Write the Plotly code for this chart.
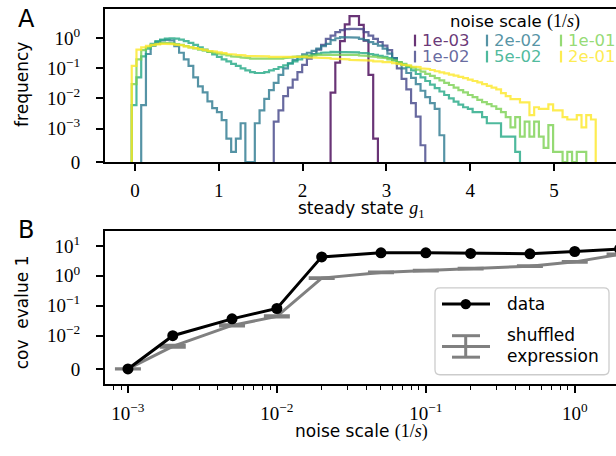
import numpy as np
import plotly.graph_objects as go

W, H = 616, 456

# ---------------- Panel A: steady-state g1 density histograms ----------------
# all histograms share one bin grid
bin_lo = -0.039
bin_w = 0.0565

noise_labels = ["1e-03", "1e-02", "2e-02", "5e-02", "1e-01", "2e-01"]
first_bin = [42, 30, 2, 0, 0, 0]

dens_1e03 = [0.0156, 0.154, 0.80, 2.9, 5.4, 5.4, 2.76, 0.83, 0.061, 0.0007]

dens_1e02 = [0.0017, 0.004, 0.012, 0.023, 0.042, 0.075, 0.13, 0.21, 0.3, 0.42,
             0.6, 0.96, 1.23, 1.6, 1.85, 2.0, 2.05, 2.05, 2.0, 1.6,
             1.23, 0.96, 0.75, 0.57, 0.4, 0.22, 0.1, 0.045, 0.02, 0.007,
             0.0025, 0.0005]

dens_2e02 = [0.006, 0.3, 0.57, 0.75, 0.85, 0.88, 0.85, 0.55, 0.33, 0.2,
             0.12, 0.05, 0.025, 0.016, 0.008, 0.0048, 0.0035, 0.0019, 0.0007, 0.0003,
             0.0007, 0.0015, 0.0, 0.0, 0.0015, 0.004, 0.0097, 0.019, 0.033, 0.061,
             0.1, 0.146, 0.19, 0.24, 0.29, 0.33, 0.38, 0.45, 0.55, 0.65,
             0.87, 1.0, 1.09, 1.09, 1.09, 1.05, 0.95, 0.87, 0.74, 0.65,
             0.57, 0.45, 0.31, 0.22, 0.15, 0.1, 0.07, 0.048, 0.03, 0.018,
             0.011, 0.007, 0.0045, 0.0008]

dens_5e02 = [0.006, 0.05, 0.25, 0.45, 0.65, 0.8, 0.9, 0.97, 1.0, 0.97,
             0.9, 0.8, 0.7, 0.6, 0.5, 0.42, 0.35, 0.29, 0.24, 0.2,
             0.17, 0.14, 0.12, 0.1, 0.085, 0.075, 0.07, 0.07, 0.075, 0.085,
             0.095, 0.11, 0.125, 0.145, 0.17, 0.2, 0.23, 0.26, 0.29, 0.31,
             0.33, 0.34, 0.35, 0.35, 0.35, 0.35, 0.34, 0.34, 0.33, 0.32,
             0.3, 0.28, 0.26, 0.24, 0.22, 0.19, 0.16, 0.13, 0.11, 0.085,
             0.065, 0.05, 0.038, 0.029, 0.022, 0.017, 0.013, 0.01, 0.0078, 0.0062,
             0.0051, 0.0045, 0.0035, 0.0035, 0.0024, 0.0015, 0.0015, 0.0015, 0.00076, 0.00076,
             0.00076, 0.0003]

dens_1e01 = [0.03, 0.2, 0.4, 0.5, 0.58, 0.65, 0.7, 0.7, 0.68, 0.64,
             0.6, 0.55, 0.5, 0.46, 0.42, 0.39, 0.36, 0.33, 0.31, 0.29,
             0.27, 0.25, 0.24, 0.23, 0.22, 0.21, 0.2, 0.2, 0.2, 0.2,
             0.21, 0.21, 0.22, 0.23, 0.24, 0.25, 0.26, 0.27, 0.27, 0.28,
             0.28, 0.29, 0.29, 0.29, 0.29, 0.29, 0.28, 0.28, 0.27, 0.26,
             0.25, 0.24, 0.23, 0.22, 0.2, 0.18, 0.16, 0.14, 0.12, 0.105,
             0.09, 0.078, 0.066, 0.056, 0.047, 0.04, 0.033, 0.028, 0.023, 0.019,
             0.016, 0.013, 0.011, 0.009, 0.0075, 0.0065, 0.0055, 0.0045, 0.0035, 0.0024,
             0.0011, 0.0024, 0.00076, 0.0017, 0.00076, 0.0017, 0.00076, 0.00042, 0.0013, 0.0003,
             0.0003, 0.0, 0.0003, 0.0, 0.0003, 0.0003]

dens_2e01 = [0.12, 0.42, 0.5, 0.56, 0.6, 0.63, 0.65, 0.65, 0.64, 0.61,
             0.58, 0.54, 0.5, 0.47, 0.44, 0.41, 0.38, 0.36, 0.34, 0.32,
             0.3, 0.29, 0.28, 0.27, 0.26, 0.26, 0.25, 0.25, 0.25, 0.24,
             0.25, 0.24, 0.24, 0.25, 0.24, 0.24, 0.24, 0.23, 0.23, 0.23,
             0.22, 0.22, 0.21, 0.21, 0.2, 0.2, 0.19, 0.19, 0.19, 0.18,
             0.18, 0.17, 0.17, 0.16, 0.16, 0.15, 0.14, 0.13, 0.125, 0.115,
             0.11, 0.1, 0.095, 0.088, 0.08, 0.074, 0.068, 0.062, 0.057, 0.052,
             0.047, 0.042, 0.038, 0.034, 0.03, 0.026, 0.023, 0.02, 0.015, 0.012,
             0.0095, 0.0095, 0.0074, 0.0074, 0.0028, 0.0051, 0.0045, 0.0045, 0.0064, 0.004,
             0.004, 0.0024, 0.002, 0.002, 0.0028, 0.0011, 0.0028, 0.002]

densities = [dens_1e03, dens_1e02, dens_2e02, dens_5e02, dens_1e01, dens_2e01]

# viridis samples, drawn at 80% opacity
viridis6 = ["#440154", "#414487", "#2a788e", "#22a884", "#7ad151", "#fde725"]


def rgba(hex_color, alpha):
    h = hex_color.lstrip("#")
    r, g, b = int(h[0:2], 16), int(h[2:4], 16), int(h[4:6], 16)
    return f"rgba({r},{g},{b},{alpha})"


line_colors = [rgba(c, 0.8) for c in viridis6]

# ---------------- Panel B: top covariance eigenvalue vs noise ----------------
noise_scale = [1e-3, 2e-3, 5e-3, 1e-2, 2e-2, 5e-2, 1e-1, 2e-1, 5e-1, 1.0, 2.0]
cov_evalue_data = [0.0, 0.0100, 0.0365, 0.081, 4.3, 5.9, 5.9, 5.6, 5.45, 6.5, 7.9]
cov_evalue_shuffled = [0.0, 0.0068, 0.022, 0.044, 0.84, 1.3, 1.5, 1.73, 2.1, 2.93, 5.2]
cov_evalue_shuffled_err = [0.00005, 0.0003, 0.001, 0.002, 0.03, 0.04, 0.04, 0.05, 0.06, 0.08, 0.15]

# ---------------- symmetric-log transform (base 10, linscale 1) ----------------
LINSCALE_ADJ = 1.0 / (1.0 - 1.0 / 10.0)


def symlog(v, linthresh):
    v = np.asarray(v, dtype=float)
    a = np.abs(v)
    out = np.where(a <= linthresh,
                   a / linthresh * LINSCALE_ADJ,
                   LINSCALE_ADJ + np.log10(np.maximum(a, linthresh) / linthresh))
    return np.sign(v) * out


def step_outline(edges, heights):
    xs, ys = [edges[0]], [0.0]
    for i, h in enumerate(heights):
        xs += [edges[i], edges[i + 1]]
        ys += [h, h]
    xs.append(edges[-1])
    ys.append(0.0)
    return np.array(xs), np.array(ys)


SERIF = "Liberation Serif"
SANS = "DejaVu Sans"

fig = go.Figure()

TH_A = 1e-3
for lab, k0, dens, col in zip(noise_labels, first_bin, densities, line_colors):
    edges = bin_lo + bin_w * (k0 + np.arange(len(dens) + 1))
    xs, ys = step_outline(edges, dens)
    fig.add_trace(go.Scatter(
        x=xs, y=symlog(ys, TH_A), mode="lines", name=lab,
        line=dict(color=col, width=2.2), showlegend=False,
        xaxis="x", yaxis="y"))

TH_B = 1e-2
shuf = np.array(cov_evalue_shuffled)
serr = np.array(cov_evalue_shuffled_err)
shuf_t = symlog(shuf, TH_B)
fig.add_trace(go.Scatter(
    x=noise_scale, y=shuf_t, mode="lines", name="shuffled expression",
    line=dict(color="#808080", width=3), showlegend=False,
    error_y=dict(type="data", symmetric=False,
                 array=symlog(shuf + serr, TH_B) - shuf_t,
                 arrayminus=shuf_t - symlog(shuf - serr, TH_B),
                 color="#808080", thickness=3, width=13),
    xaxis="x2", yaxis="y2"))
fig.add_trace(go.Scatter(
    x=noise_scale, y=symlog(cov_evalue_data, TH_B), mode="lines+markers", name="data",
    line=dict(color="black", width=3), marker=dict(color="black", size=11),
    showlegend=False, xaxis="x2", yaxis="y2"))


def px_x(p):
    return p / W


def px_y(p):
    return 1 - p / H


tickfont = dict(family=SERIF, size=19, color="black")
axis_common = dict(showline=True, linecolor="black", linewidth=2, ticks="outside",
                   ticklen=7, tickwidth=1.6, tickcolor="black", showgrid=False,
                   zeroline=False, tickfont=tickfont)

sup = lambda e: f"10<sup>{e}</sup>"

y_ticks_a = [0, 1e-3, 1e-2, 1e-1, 1]
y_text_a = ["0", sup("\u22123"), sup("\u22122"), sup("\u22121"), sup("0")]
y_ticks_b = [0, 1e-2, 1e-1, 1, 10]
y_text_b = ["0", sup("\u22122"), sup("\u22121"), sup("0"), sup("1")]
x_ticks_b = [1e-3, 1e-2, 1e-1, 1]
x_text_b = [sup("\u22123"), sup("\u22122"), sup("\u22121"), sup("0")]
minor_b = [m * 10.0 ** d for d in range(-4, 1) for m in range(2, 10)]

fig.update_layout(
    width=W, height=H, margin=dict(l=0, r=0, t=0, b=0),
    paper_bgcolor="white", plot_bgcolor="white", showlegend=False,
    xaxis=dict(domain=[px_x(105), 1.0], anchor="y", range=[-0.358, 5.74],
               tickvals=[0, 1, 2, 3, 4, 5], mirror=True, ticklabelstandoff=3,
               **axis_common),
    yaxis=dict(domain=[px_y(166), px_y(9)], anchor="x", range=[0, 5.09],
               tickvals=list(symlog(y_ticks_a, TH_A)), ticktext=y_text_a,
               ticklabelstandoff=12, **axis_common),
    xaxis2=dict(domain=[px_x(105), 1.0], anchor="y2", type="log", range=[-3.154, 0.277],
                tickvals=x_ticks_b, ticktext=x_text_b, mirror=True, ticklabelstandoff=4,
                minor=dict(tickvals=minor_b, ticks="outside", ticklen=4, tickwidth=1.2,
                           tickcolor="black", showgrid=False),
                **axis_common),
    yaxis2=dict(domain=[px_y(394), px_y(237)], anchor="x2", range=[-0.52, 4.60],
                tickvals=list(symlog(y_ticks_b, TH_B)), ticktext=y_text_b,
                ticklabelstandoff=12, **axis_common),
)

shapes = []
annotations = []


def label(text, x, y, size=17, color="black", xanchor="center", angle=0, family=SANS):
    annotations.append(dict(text=text, x=px_x(x), y=px_y(y), xref="paper", yref="paper",
                            xanchor=xanchor, yanchor="middle", showarrow=False,
                            textangle=angle, font=dict(family=family, size=size, color=color)))


math_1_over_s = f"<span style='font-family:{SERIF};font-size:18px'>(1/<i>s</i>)</span>"

# axis titles
label(f"steady state <span style='font-family:{SERIF};font-size:18px'><i>g</i><sub>1</sub></span>",
      361, 215)
label("frequency", 22, 87, angle=-90)
label(f"noise scale {math_1_over_s}", 361, 442)
label("cov  evalue 1", 22, 320, angle=-90)

# panel letters
label("A", 26, 19, size=24)
label("B", 25.5, 236, size=24)

# panel A legend: title plus three columns of coloured entries
label(f"noise scale {math_1_over_s}", 515, 22.5, size=16.5)
col_x = [415, 487, 561]
row_y = [41.5, 58]
for i, (lab, col) in enumerate(zip(noise_labels, line_colors)):
    cx, ry = col_x[i // 2], row_y[i % 2]
    shapes.append(dict(type="line", xref="paper", yref="paper",
                       x0=px_x(cx), x1=px_x(cx), y0=px_y(ry - 6), y1=px_y(ry + 6),
                       line=dict(color=col, width=2.2)))
    label(lab, cx + 5, ry, size=16.5, color=col, xanchor="left")

# panel B legend box with rounded corners
bx0, by0, bx1, by1, r = 435, 295, 609, 384, 5
X = lambda p: f"{px_x(p):.5f}"
Y = lambda p: f"{px_y(p):.5f}"
path = (f"M {X(bx0 + r)},{Y(by0)} L {X(bx1 - r)},{Y(by0)} Q {X(bx1)},{Y(by0)} {X(bx1)},{Y(by0 + r)} "
        f"L {X(bx1)},{Y(by1 - r)} Q {X(bx1)},{Y(by1)} {X(bx1 - r)},{Y(by1)} "
        f"L {X(bx0 + r)},{Y(by1)} Q {X(bx0)},{Y(by1)} {X(bx0)},{Y(by1 - r)} "
        f"L {X(bx0)},{Y(by0 + r)} Q {X(bx0)},{Y(by0)} {X(bx0 + r)},{Y(by0)} Z")
shapes.append(dict(type="path", path=path, xref="paper", yref="paper",
                   fillcolor="rgba(255,255,255,0.8)", line=dict(color="#cccccc", width=1.3)))
# data handle
shapes.append(dict(type="line", xref="paper", yref="paper", x0=px_x(442), x1=px_x(490),
                   y0=px_y(311.5), y1=px_y(311.5), line=dict(color="black", width=3)))
shapes.append(dict(type="circle", xref="paper", yref="paper", x0=px_x(460.5), x1=px_x(471),
                   y0=px_y(306.3), y1=px_y(316.8), fillcolor="black", line=dict(color="black", width=0)))
# error-bar handle
shapes.append(dict(type="line", xref="paper", yref="paper", x0=px_x(442), x1=px_x(490),
                   y0=px_y(355), y1=px_y(355), line=dict(color="#808080", width=3)))
shapes.append(dict(type="line", xref="paper", yref="paper", x0=px_x(465.7), x1=px_x(465.7),
                   y0=px_y(344), y1=px_y(366), line=dict(color="#808080", width=3)))
for cy in (344, 366):
    shapes.append(dict(type="line", xref="paper", yref="paper", x0=px_x(452), x1=px_x(480),
                       y0=px_y(cy), y1=px_y(cy), line=dict(color="#808080", width=3)))
for txt, ty in (("data", 311.5), ("shuffled", 343), ("expression", 365)):
    label(txt, 505, ty, xanchor="left")

fig.update_layout(shapes=shapes, annotations=annotations)

fig.write_html("out.html")
